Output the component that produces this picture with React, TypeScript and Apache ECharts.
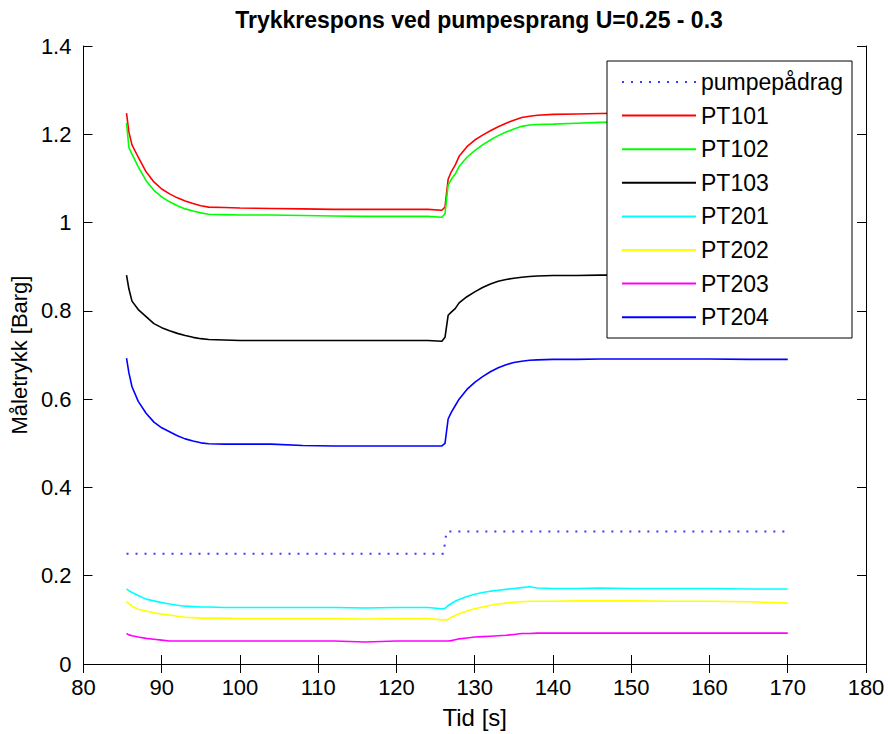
import React, { useEffect, useRef } from "react";
import * as echarts from "echarts";

const FONT = "'Liberation Sans', Arial, sans-serif";

const titleText = "Trykkrespons ved pumpesprang U=0.25 - 0.3";
const xAxisName = "Tid [s]";
const yAxisName = "Måletrykk [Barg]";

const times = [
  85.5, 85.8, 86.2, 87, 88, 89, 90, 91, 92, 93, 94, 95, 96, 98, 100, 104, 108, 112, 116, 120, 124,
  125.8, 126.2, 126.6, 127, 127.5, 128, 129, 130, 131, 132, 133, 134, 135, 136, 137, 138, 140, 143,
  146, 150, 155, 160, 165, 170,
];

const pt101 = [
  1.248, 1.205, 1.176, 1.148, 1.115, 1.092, 1.076, 1.065, 1.056, 1.049, 1.043, 1.038, 1.035, 1.034,
  1.033, 1.032, 1.031, 1.03, 1.03, 1.03, 1.03, 1.028, 1.035, 1.098, 1.115, 1.13, 1.15, 1.172, 1.187,
  1.198, 1.208, 1.217, 1.225, 1.232, 1.238, 1.241, 1.243, 1.245, 1.246, 1.247, 1.248, 1.249, 1.249,
  1.25, 1.25,
];
const pt102 = [
  1.226, 1.17, 1.155, 1.126, 1.095, 1.073, 1.058, 1.047, 1.038, 1.031, 1.026, 1.022, 1.019, 1.018,
  1.017, 1.017, 1.016, 1.015, 1.014, 1.014, 1.014, 1.012, 1.02, 1.085, 1.098, 1.11, 1.127, 1.148,
  1.163, 1.176, 1.187, 1.197, 1.205, 1.212, 1.218, 1.221, 1.222, 1.223, 1.225, 1.227, 1.228, 1.229,
  1.229, 1.23, 1.23,
];
const pt103 = [
  0.881, 0.85, 0.822, 0.803, 0.787, 0.771, 0.762, 0.755, 0.749, 0.744, 0.74, 0.737, 0.735, 0.734,
  0.733, 0.733, 0.733, 0.733, 0.733, 0.733, 0.733, 0.731, 0.74, 0.79, 0.797, 0.805, 0.818, 0.832,
  0.843, 0.853, 0.861, 0.867, 0.871, 0.874, 0.876, 0.878, 0.879, 0.88, 0.88, 0.881, 0.881, 0.881,
  0.881, 0.881, 0.881,
];
const pt201 = [
  0.17, 0.166, 0.162, 0.155, 0.147, 0.143, 0.139, 0.136, 0.133, 0.131, 0.13, 0.129, 0.129, 0.128,
  0.128, 0.128, 0.128, 0.128, 0.127, 0.128, 0.128, 0.125, 0.126, 0.132, 0.137, 0.142, 0.146, 0.153,
  0.158, 0.162, 0.165, 0.167, 0.169, 0.171, 0.173, 0.175, 0.172, 0.171, 0.171, 0.172, 0.171, 0.171,
  0.171, 0.17, 0.17,
];
const pt202 = [
  0.141, 0.137, 0.131, 0.124, 0.12, 0.116, 0.113, 0.111, 0.108, 0.106, 0.105, 0.104, 0.104, 0.104,
  0.103, 0.103, 0.103, 0.103, 0.102, 0.103, 0.103, 0.1, 0.1, 0.101, 0.106, 0.11, 0.114, 0.12, 0.125,
  0.129, 0.133, 0.136, 0.138, 0.14, 0.141, 0.142, 0.142, 0.142, 0.143, 0.143, 0.143, 0.142, 0.142,
  0.141, 0.138,
];
const pt203 = [
  0.069, 0.066, 0.064, 0.061, 0.058, 0.056, 0.054, 0.052, 0.052, 0.052, 0.052, 0.052, 0.052, 0.052,
  0.052, 0.052, 0.052, 0.052, 0.05, 0.052, 0.052, 0.052, 0.052, 0.052, 0.053, 0.055, 0.057, 0.059,
  0.061, 0.062, 0.063, 0.064, 0.065, 0.067, 0.069, 0.069, 0.07, 0.07, 0.07, 0.07, 0.07, 0.07, 0.07,
  0.07, 0.07,
];
const pt204 = [
  0.693, 0.66, 0.628, 0.595, 0.568, 0.548, 0.535, 0.526, 0.517, 0.51, 0.505, 0.501, 0.499, 0.498,
  0.498, 0.498, 0.495, 0.494, 0.494, 0.494, 0.494, 0.494, 0.5, 0.555, 0.57, 0.585, 0.6, 0.622, 0.638,
  0.651, 0.662, 0.671, 0.678, 0.683, 0.686, 0.688, 0.689, 0.69, 0.69, 0.691, 0.691, 0.691, 0.691,
  0.69, 0.69,
];

const pumpTimes = [85.5, 126, 126.4, 170];
const pumpValues = [0.25, 0.25, 0.3, 0.3];

const seriesDefs = [
  { name: "PT101", values: pt101, color: "#ff0000" },
  { name: "PT102", values: pt102, color: "#00ff00" },
  { name: "PT103", values: pt103, color: "#000000" },
  { name: "PT201", values: pt201, color: "#00ffff" },
  { name: "PT202", values: pt202, color: "#ffff00" },
  { name: "PT203", values: pt203, color: "#ff00ff" },
  { name: "PT204", values: pt204, color: "#0000ff" },
];

export default function App() {
  const ref = useRef<HTMLDivElement>(null);
  useEffect(() => {
    if (!ref.current) return;
    const chart = echarts.init(ref.current, null, { renderer: "svg" });
    const axisCommon = {
      axisLine: { show: true, lineStyle: { color: "#000", width: 1 } },
      axisTick: { show: true, inside: true, length: 9, lineStyle: { color: "#000" } },
      splitLine: { show: false },
    };
    const labelStyle = { color: "#000", fontSize: 22, fontFamily: FONT };
    const series: any[] = [
      {
        name: "pumpepådrag",
        type: "line",
        data: pumpTimes.map((t, i) => [t, pumpValues[i]]),
        symbol: "none",
        lineStyle: { color: "#3a3aff", width: 2, type: [2, 7] },
        itemStyle: { color: "#3a3aff" },
      },
      ...seriesDefs.map((s) => ({
        name: s.name,
        type: "line",
        data: times.map((t, i) => [t, s.values[i]]),
        symbol: "none",
        lineStyle: { color: s.color, width: 1.6 },
        itemStyle: { color: s.color },
      })),
    ];
    chart.setOption({
      animation: false,
      backgroundColor: "#fff",
      title: {
        text: titleText,
        left: 474,
        top: 3,
        textAlign: "center",
        textStyle: { fontFamily: FONT, fontWeight: "bold", fontSize: 23, color: "#000" },
      },
      grid: { left: 82, right: 22, top: 46, bottom: 70 },
      xAxis: [
        {
          type: "value",
          min: 80,
          max: 180,
          interval: 10,
          position: "bottom",
          ...axisCommon,
          axisLabel: { ...labelStyle, margin: 12 },
          name: xAxisName,
          nameLocation: "middle",
          nameGap: 41,
          nameTextStyle: { ...labelStyle, fontSize: 24 },
        },
        {
          type: "value",
          min: 80,
          max: 180,
          interval: 10,
          position: "top",
          ...axisCommon,
          axisLabel: { show: false },
        },
      ],
      yAxis: [
        {
          type: "value",
          min: 0,
          max: 1.4,
          interval: 0.2,
          position: "left",
          ...axisCommon,
          axisLabel: { ...labelStyle, margin: 12 },
          name: yAxisName,
          nameLocation: "middle",
          nameGap: 50,
          nameTextStyle: { ...labelStyle },
        },
        {
          type: "value",
          min: 0,
          max: 1.4,
          interval: 0.2,
          position: "right",
          ...axisCommon,
          axisLabel: { show: false },
        },
      ],
      graphic: [
        {
          type: "rect",
          z: 10,
          shape: { x: 607, y: 61, width: 245, height: 277 },
          style: { fill: "#fff", stroke: "#000", lineWidth: 1 },
        },
      ],
      legend: {
        orient: "vertical",
        left: 621,
        top: 70.5,
        z: 20,
        itemWidth: 74,
        itemHeight: 20,
        itemGap: 10.6,
        padding: 0,
        itemStyle: { opacity: 0, borderWidth: 0 },
        data: series.map((s) => s.name),
        textStyle: { fontFamily: FONT, fontSize: 23, color: "#000" },
      },
      series,
    });
    return () => chart.dispose();
  }, []);
  return <div ref={ref} style={{ width: 888, height: 734, position: "absolute", left: 0, top: 0 }} />;
}
